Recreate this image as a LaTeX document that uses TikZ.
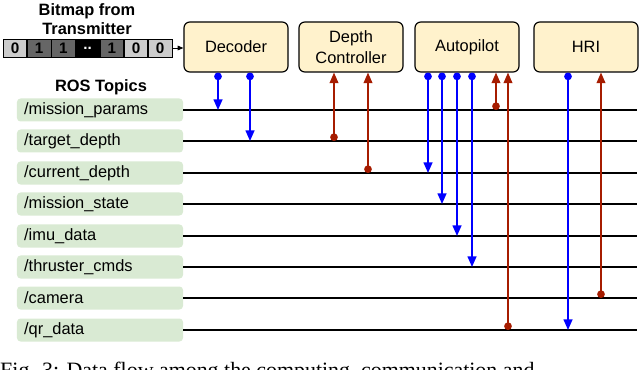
\documentclass[tikz,border=0pt]{standalone}
\usepackage{fontspec}
\setmainfont{Liberation Sans}
\newfontfamily\capfont{Liberation Serif}
\usetikzlibrary{arrows.meta,positioning}
\definecolor{nodeBeige}{RGB}{255,242,204}
\definecolor{topicGreen}{RGB}{217,234,211}
\definecolor{pubBlue}{RGB}{0,0,255}
\definecolor{subRed}{RGB}{166,28,0}
\definecolor{bitLight}{RGB}{204,204,204}
\definecolor{bitDark}{RGB}{102,102,102}

\begin{document}
\begin{tikzpicture}[x=0.03cm, y=-0.03cm,
  every node/.style={font=\fontsize{14}{18}\selectfont},
  rosnode/.style={draw, line width=1pt, fill=nodeBeige, rounded corners=5pt,
    minimum width=3.12cm, minimum height=1.5cm, align=center, inner sep=0pt},
  topicbox/.style={fill=topicGreen, rounded corners=3pt, minimum width=4.98cm,
    minimum height=0.69cm, text width=4.55cm, align=left, inner sep=0pt},
  bitcell/.style={draw, line width=0.6pt, minimum width=0.705cm, minimum height=0.54cm,
    inner sep=0pt, font=\bfseries\fontsize{13}{14}\selectfont},
  topicline/.style={line width=1.5pt},
  pub/.style={draw=pubBlue, line width=1.4pt,
    {Circle[length=6.5pt]}-{Triangle[length=9pt, width=7.5pt]}},
  sub/.style={draw=subRed, line width=1.1pt,
    {Circle[length=6.5pt]}-{Triangle[length=9pt, width=7.5pt]}}]
  \useasboundingbox (0,0) rectangle (640,370);
  \clip (0,0) rectangle (640,370);

  % Bitmap
  \node[font=\bfseries\fontsize{14}{16}\selectfont, align=center]
    (bmtitle) at (87,19) {Bitmap from\\Transmitter};
  \node[bitcell, fill=bitLight] (b0) at (15,48) {0};
  \node[bitcell, fill=bitDark, right=0pt of b0] (b1) {1};
  \node[bitcell, fill=bitDark, right=0pt of b1] (b2) {1};
  \node[bitcell, fill=black, text=white, right=0pt of b2] (b3) {..};
  \node[bitcell, fill=bitDark, right=0pt of b3] (b4) {1};
  \node[bitcell, fill=bitLight, right=0pt of b4] (b5) {0};
  \node[bitcell, fill=bitLight, right=0pt of b5] (b6) {0};

  % ROS nodes
  \node[rosnode] (dec) at (236,47) {Decoder};
  \node[rosnode] (depth) at (351,47) {Depth\\Controller};
  \node[rosnode] (auto) at (467,47) {Autopilot};
  \node[rosnode] (hri) at (586,47) {HRI};
  \draw[-{Triangle[length=5pt, width=4pt]}, line width=0.8pt] (b6.east) -- (b6.east -| dec.west);

  % ROS topics
  \node[font=\bfseries\fontsize{14}{16}\selectfont] (rostitle) at (101,87) {ROS Topics};
  \node[topicbox] (tparams) at (100,110) {/mission\_params};
  \node[topicbox] (ttarget) at (100,141) {/target\_depth};
  \node[topicbox] (tcurrent) at (100,173) {/current\_depth};
  \node[topicbox] (tstate) at (100,204) {/mission\_state};
  \node[topicbox] (timu) at (100,236) {/imu\_data};
  \node[topicbox] (tthrust) at (100,267) {/thruster\_cmds};
  \node[topicbox] (tcam) at (100,298) {/camera};
  \node[topicbox] (tqr) at (100,330) {/qr\_data};

  % Topic lines
  \coordinate (rend) at (637,0);
  \foreach \t in {tparams,ttarget,tcurrent,tstate,timu,tthrust,tcam,tqr}
    \draw[topicline] (\t.east) -- (\t -| rend);

  % Publishers and subscribers
  \coordinate (c1) at (218,0);
  \coordinate (c2) at (250,0);
  \coordinate (c3) at (334,0);
  \coordinate (c4) at (368,0);
  \coordinate (c5) at (428,0);
  \coordinate (c6) at (442,0);
  \coordinate (c7) at (457,0);
  \coordinate (c8) at (472,0);
  \coordinate (c9) at (496,0);
  \coordinate (c10) at (508,0);
  \coordinate (c11) at (568,0);
  \coordinate (c12) at (601,0);
  \draw[pub] (c1 |- dec.south) -- (c1 |- tparams);
  \draw[pub] (c2 |- dec.south) -- (c2 |- ttarget);
  \draw[sub] (c3 |- ttarget) -- (c3 |- depth.south);
  \draw[sub] (c4 |- tcurrent) -- (c4 |- depth.south);
  \draw[pub] (c5 |- auto.south) -- (c5 |- tcurrent);
  \draw[pub] (c6 |- auto.south) -- (c6 |- tstate);
  \draw[pub] (c7 |- auto.south) -- (c7 |- timu);
  \draw[pub] (c8 |- auto.south) -- (c8 |- tthrust);
  \draw[sub] (c9 |- tparams) -- (c9 |- auto.south);
  \draw[sub] (c10 |- tqr) -- (c10 |- auto.south);
  \draw[pub] (c11 |- hri.south) -- (c11 |- tqr);
  \draw[sub] (c12 |- tcam) -- (c12 |- hri.south);

  % Caption (cut off at the bottom)
  \node[anchor=base west, inner sep=0pt, font=\capfont\fontsize{18.7}{20}\selectfont]
    (caption) at (0,377) {Fig. 3: Data flow among the computing, communication and};
\end{tikzpicture}
\end{document}
